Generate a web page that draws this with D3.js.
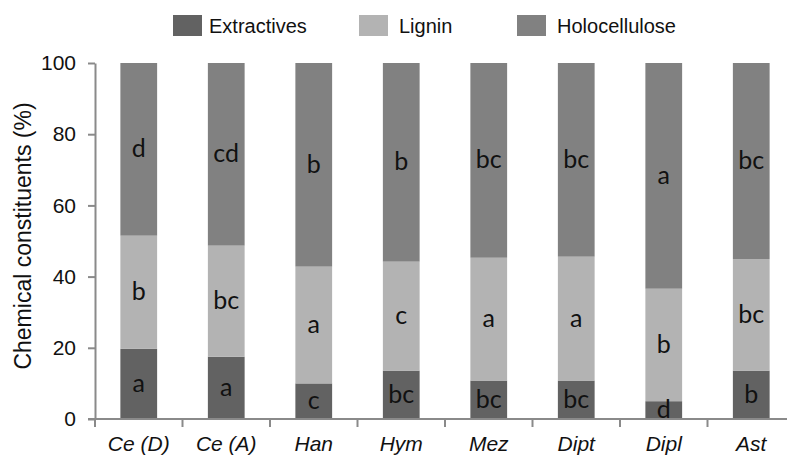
<!DOCTYPE html>
<html>
<head>
<meta charset="utf-8">
<script src="https://cdn.jsdelivr.net/npm/d3@7"></script>
<style>
    body { margin: 0; background: #fff; }
    svg { display: block; }
    .axis text { font-family: "Liberation Sans", Arial, sans-serif; font-size: 21px; fill: #111; }
    .axis path, .axis line { stroke: #8a8a8a; stroke-width: 2; }
    .bar_label { font-family: Lato, sans-serif; font-size: 25px; fill: #111; text-anchor: middle; }
    .legend text { font-family: "Liberation Sans", Arial, sans-serif; font-size: 20px; fill: #111; }
</style>
</head>
<body>
<svg id="chart"></svg>
<script>
const categories = ['Ce (D)', 'Ce (A)', 'Han', 'Hym', 'Mez', 'Dipt', 'Dipl', 'Ast'];
const seriesNames = ['Extractives', 'Lignin', 'Holocellulose'];
const extractives = [19.7, 17.5, 10.0, 13.6, 10.8, 10.8, 5.0, 13.6];
const lignin = [31.8, 31.2, 32.8, 30.6, 34.5, 34.8, 31.6, 31.3];
const holocellulose = [48.5, 51.3, 57.2, 55.8, 54.7, 54.4, 63.4, 55.1];
const extractivesLetters = ['a', 'a', 'c', 'bc', 'bc', 'bc', 'd', 'b'];
const ligninLetters = ['b', 'bc', 'a', 'c', 'a', 'a', 'b', 'bc'];
const holocelluloseLetters = ['d', 'cd', 'b', 'b', 'bc', 'bc', 'a', 'bc'];
const yTicks = [0, 20, 40, 60, 80, 100];

const width = 787;
const height = 458;
const colors = { Extractives: '#626262', Lignin: '#b3b3b3', Holocellulose: '#818181' };

const rows = categories.map((c, i) => ({
    cat: c,
    Extractives: extractives[i],
    Lignin: lignin[i],
    Holocellulose: holocellulose[i]
}));
const letters = {
    Extractives: extractivesLetters,
    Lignin: ligninLetters,
    Holocellulose: holocelluloseLetters
};

const svg = d3.select('#chart')
    .attr('width', width)
    .attr('height', height);

const xScale = d3.scaleBand()
    .domain(categories)
    .range([95, 795])
    .paddingInner(0.58)
    .paddingOuter(0.29);

const yScale = d3.scaleLinear()
    .domain([0, 100])
    .range([419, 63]);

const stacked = d3.stack().keys(seriesNames)(rows);

// bars
const layers = svg.selectAll('.layer')
    .data(stacked)
    .join('g')
        .classed('layer', true)
        .attr('fill', d => colors[d.key]);

layers.selectAll('rect')
    .data(d => d)
    .join('rect')
        .attr('x', d => xScale(d.data.cat))
        .attr('width', xScale.bandwidth())
        .attr('y', d => yScale(d[1]))
        .attr('height', d => yScale(d[0]) - yScale(d[1]));

// significance letters
stacked.forEach(layer => {
    svg.selectAll(`.bar_label_${layer.key}`)
        .data(layer)
        .join('text')
            .attr('class', `bar_label bar_label_${layer.key}`)
            .attr('x', d => xScale(d.data.cat) + xScale.bandwidth() / 2)
            .attr('y', d => (yScale(d[0]) + yScale(d[1])) / 2)
            .attr('dy', '0.32em')
            .text((d, i) => letters[layer.key][i]);
});

// y axis
const yAxis = d3.axisLeft(yScale)
    .tickValues(yTicks)
    .tickSize(7)
    .tickSizeOuter(0)
    .tickPadding(12);

svg.append('g')
    .classed('axis', true)
    .attr('transform', 'translate(95,0)')
    .call(yAxis);

// x axis: line, boundary ticks, italic labels
const xAxisG = svg.append('g')
    .classed('axis', true)
    .attr('transform', 'translate(0,419)');

xAxisG.append('line')
    .attr('x1', 88)
    .attr('x2', 795)
    .attr('y1', 0)
    .attr('y2', 0);

const half = (xScale.step() - xScale.bandwidth()) / 2;
xAxisG.selectAll('.xtick')
    .data(categories)
    .join('line')
        .classed('xtick', true)
        .attr('x1', d => xScale(d) - half)
        .attr('x2', d => xScale(d) - half)
        .attr('y1', 0)
        .attr('y2', 8);

xAxisG.selectAll('.xlabel')
    .data(categories)
    .join('text')
        .classed('xlabel', true)
        .attr('x', d => xScale(d) + xScale.bandwidth() / 2)
        .attr('y', 32)
        .attr('text-anchor', 'middle')
        .style('font-style', 'italic')
        .text(d => d);

// y axis title
svg.append('text')
    .attr('transform', 'translate(31,236) rotate(-90)')
    .attr('text-anchor', 'middle')
    .style('font-family', '"Liberation Sans", Arial, sans-serif')
    .style('font-size', '23px')
    .style('fill', '#111')
    .text('Chemical constituents (%)');

// legend
const legendX = [173, 359, 517];
const legend = svg.append('g').classed('legend', true);
const items = legend.selectAll('g')
    .data(seriesNames)
    .join('g')
        .attr('transform', (d, i) => `translate(${legendX[i]},15)`);

items.append('rect')
    .attr('width', 29)
    .attr('height', 21)
    .attr('fill', d => colors[d]);

items.append('text')
    .attr('x', (d, i) => i === 0 ? 36 : 40)
    .attr('y', 18)
    .text(d => d);
</script>
</body>
</html>
